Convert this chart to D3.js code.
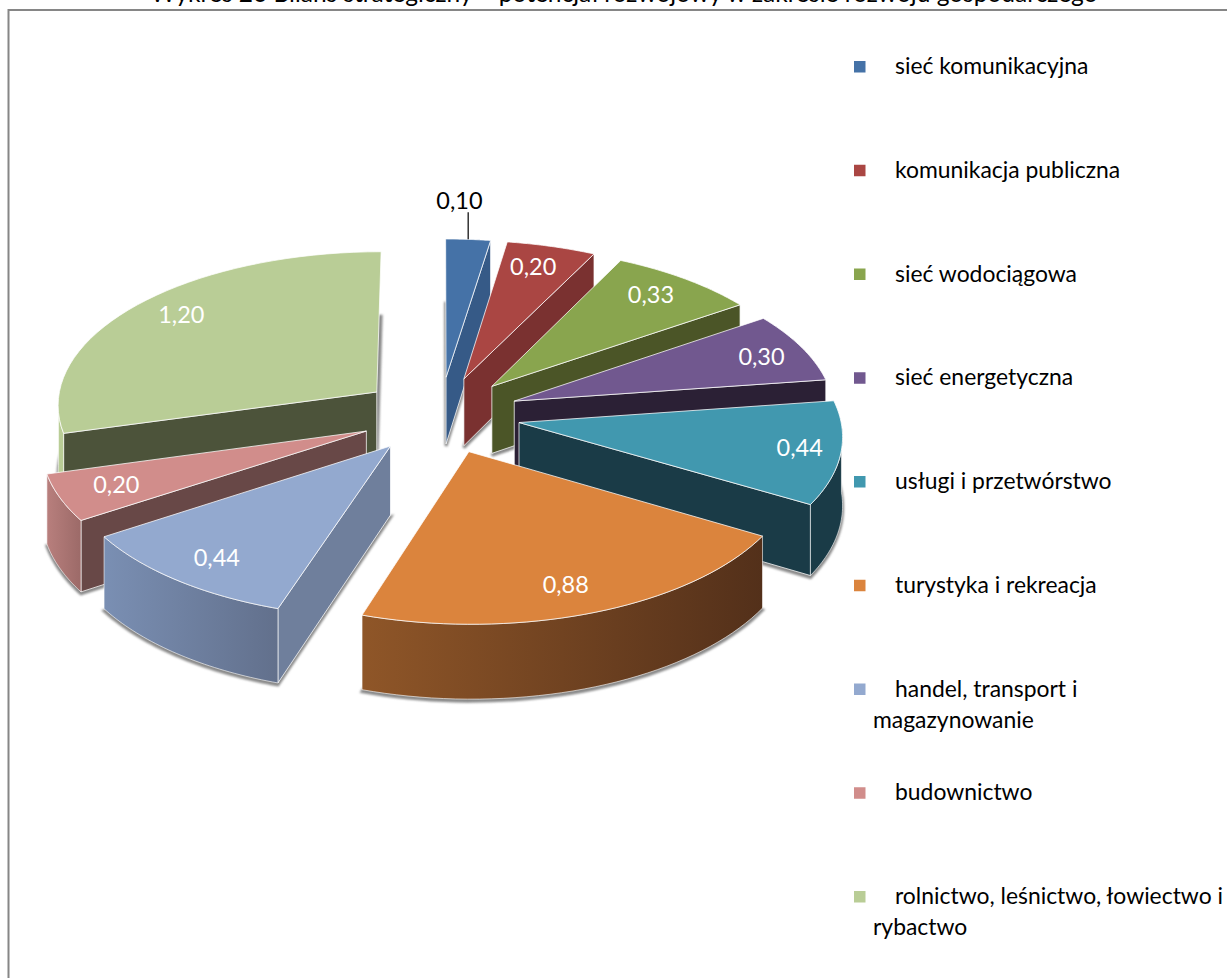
<!DOCTYPE html>
<html>
<head>
<meta charset="utf-8">
<script src="https://cdn.jsdelivr.net/npm/d3@7"></script>
<style>
  html, body { margin: 0; padding: 0; background: #fff; overflow: hidden; }
  text { font-family: Lato, "Open Sans", sans-serif; }
</style>
</head>
<body>
<svg id="chart" width="1227" height="978"></svg>
<script>
const title = 'Wykres 26 Bilans strategiczny – potencjał rozwojowy w zakresie rozwoju gospodarczego'
const categories = [
  'sieć komunikacyjna',
  'komunikacja publiczna',
  'sieć wodociągowa',
  'sieć energetyczna',
  'usługi i przetwórstwo',
  'turystyka i rekreacja',
  'handel, transport i magazynowanie',
  'budownictwo',
  'rolnictwo, leśnictwo, łowiectwo i rybactwo'
]
const values = [0.1, 0.2, 0.33, 0.3, 0.44, 0.88, 0.44, 0.2, 1.2]
const topColors = ['#4572a7', '#aa4643', '#89a54e', '#71588f', '#4198af', '#db843d', '#93a9cf', '#d18d8b', '#b9cd96']
const wallColors = ['#365a87', '#7a3130', '#4b5527', '#2b2035', '#1a3b47', '#5a3416', '#6f7f9c', '#684847', '#4c533a']
const rimLeft = ['#365a87', '#7a3130', '#4b5527', '#2b2035', '#1a3b47', '#8f5628', '#7a8fb3', '#b87f7d', '#b9cd96']
const rimRight = ['#365a87', '#7a3130', '#4b5527', '#2b2035', '#1a3b47', '#53301a', '#62708c', '#9c6a68', '#adc08c']
const paintOrder = [8, 0, 1, 2, 3, 7, 4, 6, 5]
// small hand corrections of the data labels, in px
const labelShift = [[-15, 0], [-5, 0], [-5, -1], [5, 1], [11, 0], [-8, 0], [4, 0], [6, -2], [7, -4]]

const svg = d3.select('#chart')
const format = d3.format('.2f')

// projection of the pie plane, radius 1, slightly in perspective
const cx = 440
const cy = 415
const scaleX = 321
const scaleY = 154
const persp = 0.0745
const explode = 0.25
const depth = 68

const project = (u, v, drop) => {
  const s = 1 / (1 - persp * v)
  return [cx + scaleX * u * s, cy + scaleY * v * s + (drop ? depth * s : 0)]
}

const line = d3.line()
const pie = d3.pie().sort(null).value(d => d)
const arcs = pie(values)

const slices = arcs.map((d, i) => {
  const mid = (d.startAngle + d.endAngle) / 2
  const ou = explode * Math.sin(mid)
  const ov = -explode * Math.cos(mid)
  const at = (a, r, drop) => project(ou + r * Math.sin(a), ov - r * Math.cos(a), drop)
  const steps = d3.range(0, 41).map(k => d.startAngle + (d.endAngle - d.startAngle) * k / 40)
  return { i, d, mid, at, steps }
})

const defs = svg.append('defs')
defs.append('filter').attr('id', 'blur')
  .attr('x', '-10%').attr('y', '-10%').attr('width', '120%').attr('height', '120%')
  .append('feGaussianBlur').attr('stdDeviation', 1.3)

slices.forEach(s => {
  const g = defs.append('linearGradient')
    .attr('id', 'rim' + s.i)
    .attr('gradientUnits', 'userSpaceOnUse')
    .attr('x1', d3.min(s.steps, a => s.at(a, 1)[0]))
    .attr('x2', d3.max(s.steps, a => s.at(a, 1)[0]))
    .attr('y1', 0).attr('y2', 0)
  g.append('stop').attr('offset', 0).attr('stop-color', rimLeft[s.i])
  g.append('stop').attr('offset', 1).attr('stop-color', rimRight[s.i])
})

// frame
svg.append('rect')
  .attr('x', 8.5).attr('y', 10)
  .attr('width', 1400).attr('height', 1200)
  .attr('fill', '#fff').attr('stroke', '#868686').attr('stroke-width', 2)

svg.append('text')
  .attr('x', 624).attr('y', 1.5)
  .attr('text-anchor', 'middle')
  .attr('font-size', 24.5)
  .attr('fill', '#000')
  .text(title)

// shadows go first, they only peek out around the solids
svg.append('g').selectAll('path')
  .data(slices)
  .join('path')
  .attr('d', s => line([s.at(0, 0, true)].concat(s.steps.map(a => s.at(a, 1, true)))) + 'Z')
  .attr('transform', 'translate(0,2)')
  .attr('fill', '#8a8a8a')
  .attr('stroke', '#8a8a8a')
  .attr('stroke-width', 3)
  .attr('filter', 'url(#blur)')

const edge = 'rgba(255,255,255,0.75)'
const solids = svg.append('g')

paintOrder.forEach(i => {
  const s = slices[i]
  const g = solids.append('g').attr('class', 'slice')
  const wall = a => line([s.at(a, 0), s.at(a, 1), s.at(a, 1, true), s.at(a, 0, true)]) + 'Z'
  const start = s.d.startAngle
  const end = s.d.endAngle

  // only the walls that face the viewer
  if (Math.sin(start) < 0) {
    g.append('path').attr('d', wall(start)).attr('fill', wallColors[i]).attr('stroke', edge).attr('stroke-width', 1)
  }
  if (Math.sin(end) > 0) {
    g.append('path').attr('d', wall(end)).attr('fill', wallColors[i]).attr('stroke', edge).attr('stroke-width', 1)
  }
  const front = s.steps.filter(a => Math.cos(a) < 0)
  if (front.length > 1) {
    const upper = front.map(a => s.at(a, 1))
    const lower = front.map(a => s.at(a, 1, true)).reverse()
    g.append('path')
      .attr('d', line(upper.concat(lower)) + 'Z')
      .attr('fill', 'url(#rim' + i + ')')
      .attr('stroke', edge)
      .attr('stroke-width', 0.8)
  }
  g.append('path')
    .attr('d', line([s.at(start, 0)].concat(s.steps.map(a => s.at(a, 1)))) + 'Z')
    .attr('fill', topColors[i])
    .attr('stroke', edge)
    .attr('stroke-width', 1)
})

// data labels
const labelR = 0.84
slices.forEach(s => {
  const first = s.i === 0
  const p = s.at(s.mid, first ? 1.31 : labelR)
  svg.append('text')
    .attr('x', p[0] + labelShift[s.i][0])
    .attr('y', p[1] + labelShift[s.i][1])
    .attr('dy', '0.35em')
    .attr('text-anchor', 'middle')
    .attr('font-size', 23.5)
    .attr('fill', first ? '#000' : '#fff')
    .text(format(values[s.i]).replace('.', ','))
})

// leader for the label outside the pie
const rimPoint = slices[0].at(slices[0].mid, 1)
svg.append('line')
  .attr('x1', rimPoint[0]).attr('x2', rimPoint[0])
  .attr('y1', rimPoint[1]).attr('y2', rimPoint[1] - 27)
  .attr('stroke', '#000').attr('stroke-width', 1.2)

// legend
const legendY = d3.scaleLinear().domain([0, 8]).range([66, 896])
const legendLines = {
  6: ['handel, transport i', 'magazynowanie'],
  8: ['rolnictwo, leśnictwo, łowiectwo i', 'rybactwo']
}
const legend = svg.append('g')
categories.forEach((c, i) => {
  const y = legendY(i)
  legend.append('rect')
    .attr('x', 854).attr('y', y - 5)
    .attr('width', 11.5).attr('height', 11.5)
    .attr('fill', topColors[i])
  const wrapped = legendLines[i] || [c]
  wrapped.forEach((t, k) => {
    legend.append('text')
      .attr('x', k === 0 ? 895 : 873)
      .attr('y', y + k * 31)
      .attr('dy', '0.35em')
      .attr('font-size', 22.9)
      .attr('fill', '#000')
      .text(t)
  })
})
</script>
</body>
</html>
